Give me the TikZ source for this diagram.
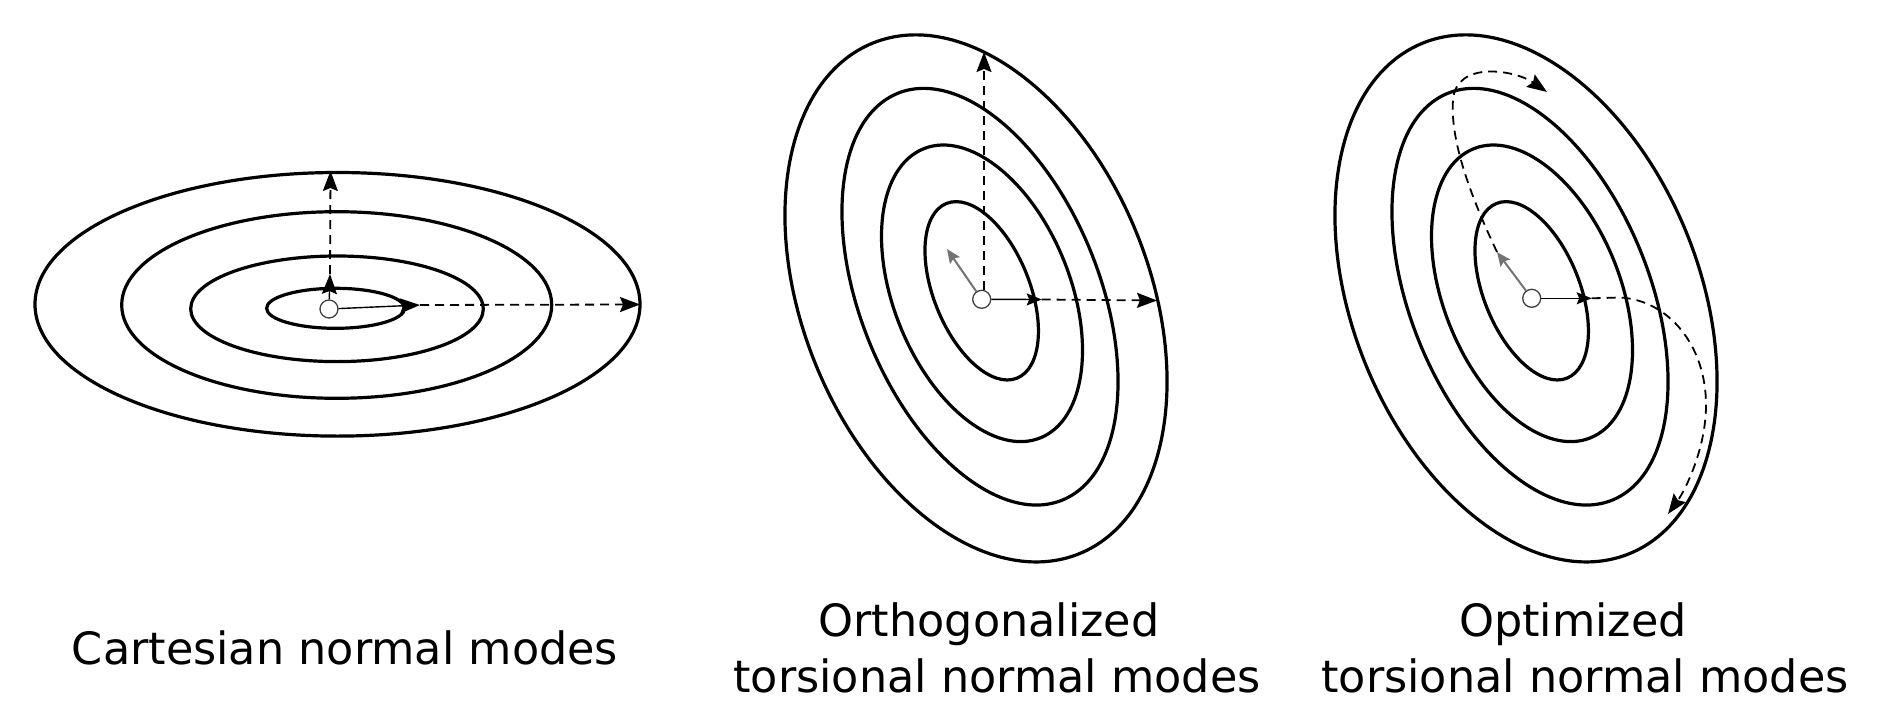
\documentclass[tikz,border=0pt]{standalone}
\usepackage{fontspec}
\setmainfont{DejaVu Sans}
\usetikzlibrary{arrows.meta}
\begin{document}
\begin{tikzpicture}[x=1pt,y=1pt,
  contour/.style={line width=3.2pt},
  dashln/.style={line width=1.8pt, dash pattern=on 9pt off 6pt},
  bigtip/.style={-{Stealth[length=20pt,width=15pt,inset=3pt]}},
  smalltip/.style={-{Stealth[length=15pt,width=12pt,inset=2.5pt]}},
  solidarr/.style={line width=1.4pt},
  grayarr/.style={draw=black!55, line width=2pt, -{Stealth[length=14pt,width=12pt,inset=2.5pt,fill=black!55]}},
  origin/.style={circle, draw=black!75, line width=1.3pt, minimum size=18pt, inner sep=0pt},
  lbl/.style={anchor=base, inner sep=0pt, font=\fontsize{44.5}{53}\selectfont}]
\useasboundingbox (0,0) rectangle (1877,-701);

% ---------- Panel 1: Cartesian ----------
\draw[contour] (337.5,-304.3) ellipse [x radius=302.5pt, y radius=131.8pt];
\draw[contour] (336.7,-305) ellipse [x radius=215pt, y radius=93.3pt];
\draw[contour] (337,-308.8) ellipse [x radius=146.3pt, y radius=52.8pt];
\draw[contour] (335.6,-308.3) ellipse [x radius=69pt, y radius=20pt];
\node[origin] (c1) at (329,-309) {};
\coordinate (u1) at (330,-274);
\coordinate (U1) at (330.5,-171);
\coordinate (r1) at (420,-305);
\coordinate (R1) at (640,-304.5);
\draw[solidarr,bigtip] (c1) -- (u1);
\draw[dashln,bigtip] (u1) -- (U1);
\draw[solidarr,bigtip] (c1) -- (r1);
\draw[dashln,bigtip] (r1) -- (R1);

% ---------- Panel 2: Orthogonalized ----------
\draw[contour] (976,-298.4) ellipse [x radius=173.4pt, y radius=275.4pt, rotate=22];
\draw[contour] (980,-296.7) ellipse [x radius=119.6pt, y radius=219.4pt, rotate=22];
\draw[contour] (982,-293.3) ellipse [x radius=88.2pt, y radius=155.9pt, rotate=22];
\draw[contour] (981.7,-290.8) ellipse [x radius=47.9pt, y radius=94.2pt, rotate=22];
\node[origin] (c2) at (981.7,-299.3) {};
\coordinate (V2) at (984,-52);
\coordinate (h2) at (1041.7,-299.5);
\coordinate (H2) at (1157,-300.5);
\coordinate (g2) at (947,-249);
\draw[dashln,bigtip] (c2.north -| V2) -- (V2);
\draw[solidarr,smalltip] (c2) -- (h2);
\draw[dashln,bigtip] (h2) -- (H2);
\draw[grayarr] (c2) -- (g2);

% ---------- Panel 3: Optimized ----------
\draw[contour] (1526,-298.4) ellipse [x radius=173.4pt, y radius=275.4pt, rotate=22];
\draw[contour] (1530,-296.7) ellipse [x radius=119.6pt, y radius=219.4pt, rotate=22];
\draw[contour] (1532,-293.3) ellipse [x radius=88.2pt, y radius=155.9pt, rotate=22];
\draw[contour] (1531.7,-290.8) ellipse [x radius=47.9pt, y radius=94.2pt, rotate=22];
\node[origin] (c3) at (1531.7,-298.3) {};
\coordinate (h3) at (1591.7,-298.3);
\coordinate (k3) at (1620,-297.5);
\coordinate (E3) at (1668,-514);
\coordinate (g3) at (1497,-252);
\coordinate (e3) at (1547,-92);
\draw[solidarr,smalltip] (c3) -- (h3);
\draw[dashln,bigtip] (h3) -- (k3) .. controls (1668,-300) and (1706,-345) .. (1706,-405)
  .. controls (1706,-450) and (1684,-492) .. (E3);
\draw[dashln,bigtip] (g3) .. controls (1470,-195) and (1450,-140) .. (1453,-100)
  .. controls (1456,-60) and (1515,-70) .. (e3);
\draw[grayarr] (c3) -- (g3);

% ---------- Labels ----------
\node[lbl] (t1) at (345,-664) {Cartesian normal modes};
\node[lbl] (t2a) at (989,-636) {Orthogonalized};
\node[lbl] (t2b) at (997,-692) {torsional normal modes};
\node[lbl] (t3a) at (1573,-636) {Optimized};
\node[lbl] (t3b) at (1585,-692) {torsional normal modes};
\end{tikzpicture}
\end{document}
